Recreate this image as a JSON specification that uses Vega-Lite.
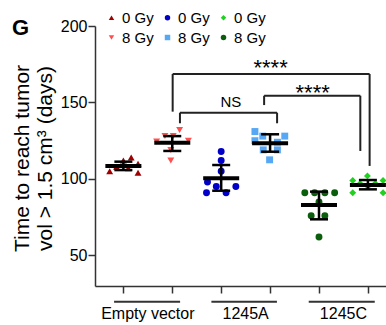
{
  "$schema": "https://vega.github.io/schema/vega-lite/v6.json",
  "autosize": "none",
  "width": 291,
  "height": 260,
  "padding": {"left": 95, "top": 26, "right": 0, "bottom": 39},
  "config": {
    "font": "Liberation Sans",
    "view": {"stroke": null},
    "axis": {"grid": false, "domainColor": "#333", "tickColor": "#333", "domainWidth": 1.5, "tickWidth": 1.5, "labelColor": "black", "labelFontSize": 16, "tickSize": 7},
    "legend": {"columnPadding": 6, "labelFontSize": 15, "symbolSize": 30, "labelOffset": 3, "rowPadding": 4, "padding": 0}
  },
  "title": {"text": "G", "fontSize": 22, "fontWeight": "bold", "anchor": "start", "frame": "group", "dx": -83, "dy": 30, "offset": 0, "color": "black"},
  "datasets": {
    "points": [
      {"series": "Empty vector 0 Gy", "x": 0.72, "days": 105},
      {"series": "Empty vector 0 Gy", "x": 0.86, "days": 108},
      {"series": "Empty vector 0 Gy", "x": 1.0, "days": 112},
      {"series": "Empty vector 0 Gy", "x": 1.16, "days": 114},
      {"series": "Empty vector 0 Gy", "x": 1.3, "days": 110},
      {"series": "Empty vector 0 Gy", "x": 1.3, "days": 104},
      {"series": "Empty vector 0 Gy", "x": 1.1, "days": 107},
      {"series": "Empty vector 8 Gy", "x": 1.68, "days": 124.5},
      {"series": "Empty vector 8 Gy", "x": 1.85, "days": 128},
      {"series": "Empty vector 8 Gy", "x": 2.02, "days": 128},
      {"series": "Empty vector 8 Gy", "x": 2.15, "days": 132},
      {"series": "Empty vector 8 Gy", "x": 2.33, "days": 125},
      {"series": "Empty vector 8 Gy", "x": 1.97, "days": 119},
      {"series": "Empty vector 8 Gy", "x": 1.97, "days": 112},
      {"series": "1245A 0 Gy", "x": 3.0, "days": 118},
      {"series": "1245A 0 Gy", "x": 3.0, "days": 112},
      {"series": "1245A 0 Gy", "x": 3.0, "days": 105},
      {"series": "1245A 0 Gy", "x": 2.72, "days": 98},
      {"series": "1245A 0 Gy", "x": 2.9, "days": 95},
      {"series": "1245A 0 Gy", "x": 3.3, "days": 95},
      {"series": "1245A 0 Gy", "x": 2.7, "days": 91},
      {"series": "1245A 0 Gy", "x": 3.1, "days": 91},
      {"series": "1245A 8 Gy", "x": 3.69, "days": 131},
      {"series": "1245A 8 Gy", "x": 3.85, "days": 128},
      {"series": "1245A 8 Gy", "x": 4.3, "days": 128},
      {"series": "1245A 8 Gy", "x": 3.69, "days": 125},
      {"series": "1245A 8 Gy", "x": 4.15, "days": 124},
      {"series": "1245A 8 Gy", "x": 3.86, "days": 119},
      {"series": "1245A 8 Gy", "x": 4.15, "days": 119},
      {"series": "1245A 8 Gy", "x": 3.99, "days": 112.5},
      {"series": "1245C 8 Gy", "x": 4.71, "days": 91},
      {"series": "1245C 8 Gy", "x": 4.91, "days": 91},
      {"series": "1245C 8 Gy", "x": 5.12, "days": 91},
      {"series": "1245C 8 Gy", "x": 5.32, "days": 91},
      {"series": "1245C 8 Gy", "x": 5.0, "days": 85},
      {"series": "1245C 8 Gy", "x": 4.84, "days": 76},
      {"series": "1245C 8 Gy", "x": 5.12, "days": 76},
      {"series": "1245C 8 Gy", "x": 5.0, "days": 62},
      {"series": "1245C 0 Gy", "x": 5.99, "days": 102},
      {"series": "1245C 0 Gy", "x": 5.69, "days": 99},
      {"series": "1245C 0 Gy", "x": 6.31, "days": 99},
      {"series": "1245C 0 Gy", "x": 5.84, "days": 97},
      {"series": "1245C 0 Gy", "x": 6.15, "days": 97},
      {"series": "1245C 0 Gy", "x": 5.69, "days": 91},
      {"series": "1245C 0 Gy", "x": 6.31, "days": 91},
      {"series": "1245C 0 Gy", "x": 6.0, "days": 95}
    ],
    "summary": [
      {"x": 1, "mean": 108.5, "lo": 105.8, "hi": 111.3},
      {"x": 2, "mean": 123.7, "lo": 118.3, "hi": 128},
      {"x": 3, "mean": 100.4, "lo": 92.3, "hi": 109.1},
      {"x": 4, "mean": 123.3, "lo": 117.8, "hi": 129.2},
      {"x": 5, "mean": 83, "lo": 73.6, "hi": 91.7},
      {"x": 6, "mean": 96, "lo": 93.2, "hi": 99.3}
    ],
    "brackets": [
      {"x": 2.008, "x2": 6.035, "y": 168.6, "y2": 168.6},
      {"x": 2.008, "x2": 2.008, "y": 168.6, "y2": 144.0},
      {"x": 6.035, "x2": 6.035, "y": 168.6, "y2": 108.5},
      {"x": 2.157, "x2": 4.143, "y": 143.3, "y2": 143.3},
      {"x": 2.157, "x2": 2.157, "y": 143.3, "y2": 136.4},
      {"x": 4.143, "x2": 4.143, "y": 143.3, "y2": 136.4},
      {"x": 3.878, "x2": 5.845, "y": 154.4, "y2": 154.4},
      {"x": 3.878, "x2": 3.878, "y": 154.4, "y2": 148.3},
      {"x": 5.845, "x2": 5.845, "y": 154.4, "y2": 118.3}
    ],
    "notes": [
      {"x": 3.2, "y": 147.2, "text": "NS", "kind": "ns"},
      {"x": 4.87, "y": 151.5, "text": "****", "kind": "star"},
      {"x": 4.01, "y": 167.8, "text": "****", "kind": "star"}
    ],
    "groups": [
      {"x": 1.5, "x1": 0.81, "x2": 2.16, "label": "Empty vector"},
      {"x": 3.5, "x1": 2.8, "x2": 4.14, "label": "1245A"},
      {"x": 5.5, "x1": 4.79, "x2": 6.14, "label": "1245C"}
    ]
  },
  "layer": [
    {
      "data": {"name": "points"},
      "mark": {"type": "point", "filled": true, "opacity": 1, "size": 48},
      "encoding": {
        "x": {"field": "x", "type": "quantitative", "scale": {"domain": [0.42, 6.37], "nice": false, "zero": false},
          "axis": {"values": [1, 2, 3, 4, 5, 6], "title": null, "labels": false}},
        "y": {"field": "days", "type": "quantitative", "scale": {"domain": [30, 200], "nice": false, "zero": false},
          "axis": {"values": [50, 100, 150, 200], "labelPadding": 1, "title": ["Time to reach tumor", "vol > 1.5 cm³ (days)"], "titleFontSize": 21, "titleFontWeight": "normal", "titleColor": "black", "titleLineHeight": 23, "titleX": -66.7, "titleY": 132, "titleAlign": "center", "titleBaseline": "alphabetic", "titleAngle": 270}},
        "color": {"field": "series", "type": "nominal",
          "scale": {"domain": ["Empty vector 0 Gy", "1245A 0 Gy", "1245C 0 Gy", "Empty vector 8 Gy", "1245A 8 Gy", "1245C 8 Gy"],
            "range": ["#A00000", "#0000C8", "#22D022", "#FF4F4F", "#56A8F5", "#0B5E0B"]},
          "legend": {"orient": "none", "legendX": 9, "legendY": -16, "columns": 3, "direction": "horizontal", "title": null, "labelExpr": "slice(datum.label, -4)", "labelFontSize": 15, "labelColor": "black", "symbolSize": 30, "labelOffset": 3, "columnPadding": 6, "rowPadding": 4, "padding": 0, "symbolStrokeWidth": 0}},
        "shape": {"field": "series", "type": "nominal",
          "scale": {"domain": ["Empty vector 0 Gy", "1245A 0 Gy", "1245C 0 Gy", "Empty vector 8 Gy", "1245A 8 Gy", "1245C 8 Gy"],
            "range": ["triangle-up", "circle", "diamond", "triangle-down", "square", "circle"]}}
      }
    },
    {
      "data": {"name": "summary"},
      "mark": {"type": "rule", "color": "black", "strokeWidth": 2.5},
      "encoding": {
        "x": {"field": "x", "type": "quantitative", "scale": {"domain": [0.42, 6.37], "nice": false, "zero": false}},
        "y": {"field": "lo", "type": "quantitative", "scale": {"domain": [30, 200], "nice": false, "zero": false}},
        "y2": {"field": "hi"}
      }
    },
    {
      "data": {"name": "summary"},
      "mark": {"type": "tick", "color": "black", "orient": "horizontal", "size": 18, "thickness": 2.5, "opacity": 1},
      "encoding": {
        "x": {"field": "x", "type": "quantitative", "scale": {"domain": [0.42, 6.37], "nice": false, "zero": false}},
        "y": {"field": "lo", "type": "quantitative", "scale": {"domain": [30, 200], "nice": false, "zero": false}}
      }
    },
    {
      "data": {"name": "summary"},
      "mark": {"type": "tick", "color": "black", "orient": "horizontal", "size": 18, "thickness": 2.5, "opacity": 1},
      "encoding": {
        "x": {"field": "x", "type": "quantitative", "scale": {"domain": [0.42, 6.37], "nice": false, "zero": false}},
        "y": {"field": "hi", "type": "quantitative", "scale": {"domain": [30, 200], "nice": false, "zero": false}}
      }
    },
    {
      "data": {"name": "summary"},
      "mark": {"type": "tick", "color": "black", "orient": "horizontal", "size": 36, "thickness": 4, "opacity": 1},
      "encoding": {
        "x": {"field": "x", "type": "quantitative", "scale": {"domain": [0.42, 6.37], "nice": false, "zero": false}},
        "y": {"field": "mean", "type": "quantitative", "scale": {"domain": [30, 200], "nice": false, "zero": false}}
      }
    },
    {
      "data": {"name": "brackets"},
      "mark": {"type": "rule", "color": "#222", "strokeWidth": 2},
      "encoding": {
        "x": {"field": "x", "type": "quantitative", "scale": {"domain": [0.42, 6.37], "nice": false, "zero": false}},
        "x2": {"field": "x2"},
        "y": {"field": "y", "type": "quantitative", "scale": {"domain": [30, 200], "nice": false, "zero": false}},
        "y2": {"field": "y2"}
      }
    },
    {
      "data": {"name": "groups"},
      "mark": {"type": "rule", "color": "#333", "strokeWidth": 2, "clip": false},
      "encoding": {
        "x": {"field": "x1", "type": "quantitative", "scale": {"domain": [0.42, 6.37], "nice": false, "zero": false}},
        "x2": {"field": "x2"},
        "y": {"datum": 19.7, "type": "quantitative", "scale": {"domain": [30, 200], "nice": false, "zero": false}}
      }
    },
    {
      "data": {"name": "groups"},
      "mark": {"type": "text", "color": "black", "fontSize": 16, "baseline": "alphabetic", "align": "center", "clip": false},
      "encoding": {
        "x": {"field": "x", "type": "quantitative", "scale": {"domain": [0.42, 6.37], "nice": false, "zero": false}},
        "y": {"datum": 8.1, "type": "quantitative", "scale": {"domain": [30, 200], "nice": false, "zero": false}},
        "text": {"field": "label"}
      }
    },
    {
      "data": {"name": "notes"},
      "mark": {"type": "text", "color": "black", "baseline": "alphabetic", "align": "center"},
      "encoding": {
        "x": {"field": "x", "type": "quantitative", "scale": {"domain": [0.42, 6.37], "nice": false, "zero": false}},
        "y": {"field": "y", "type": "quantitative", "scale": {"domain": [30, 200], "nice": false, "zero": false}},
        "text": {"field": "text"},
        "size": {"field": "kind", "type": "nominal", "scale": {"domain": ["ns", "star"], "range": [15, 22]}, "legend": null},
        "fontWeight": {"field": "kind", "type": "nominal", "scale": {"domain": ["ns", "star"], "range": ["normal", "bold"]}, "legend": null}
      }
    }
  ]
}
